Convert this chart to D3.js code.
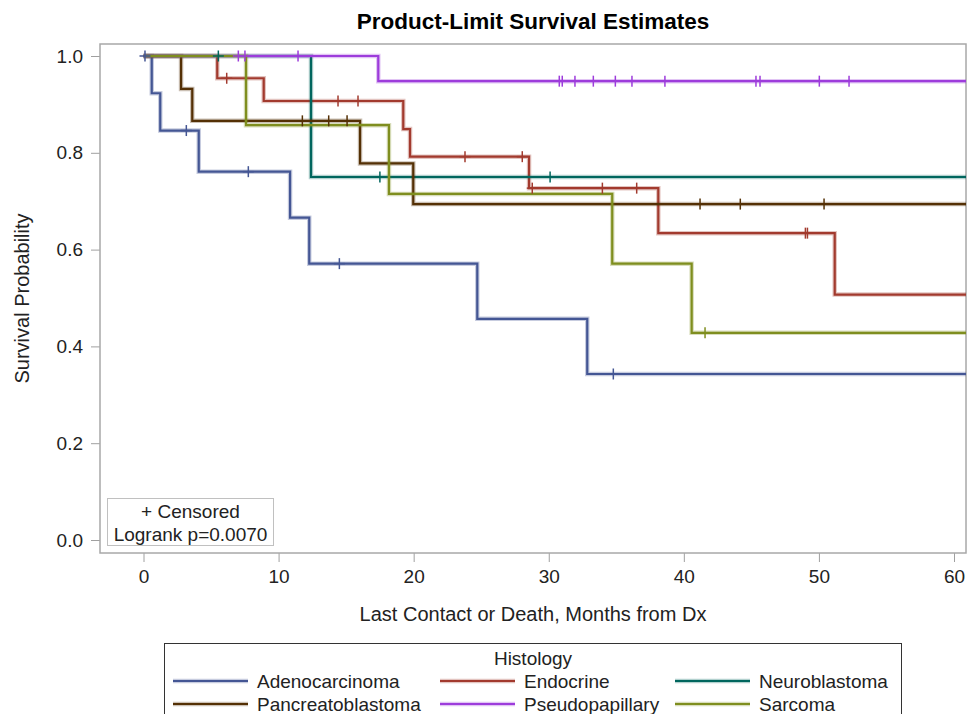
<!DOCTYPE html>
<html>
<head>
<meta charset="utf-8">
<script src="https://cdn.jsdelivr.net/npm/d3@7"></script>
<style>
  body { margin: 0; background: #fff; }
  svg text { font-family: "Liberation Sans", Arial, sans-serif; fill: #222; }
</style>
</head>
<body>
<div id="app"></div>
<script>
// groups in SAS draw order
var groups = ["Adenocarcinoma", "Endocrine", "Neuroblastoma", "Pancreatoblastoma", "Pseudopapillary", "Sarcoma"];
var colors = ["#445694", "#a23a2e", "#01665e", "#543005", "#9d3cdb", "#7f8e1f"];

// event times (months) and survival after each event
var adenoTimes = [0.61, 1.24, 4.09, 10.85, 12.27, 24.71, 32.85];
var adenoSurv  = [0.923, 0.846, 0.761, 0.666, 0.571, 0.457, 0.343];
var adenoCens  = [0.11, 3.17, 7.76, 14.5, 34.78];

var endoTimes = [5.46, 8.9, 19.23, 19.73, 28.54, 38.11, 51.17];
var endoSurv  = [0.954, 0.907, 0.849, 0.792, 0.727, 0.634, 0.507];
var endoCens  = [6.16, 14.4, 15.88, 23.8, 28.04, 28.78, 33.97, 36.51, 49.0, 49.15];

var neuroTimes = [12.4];
var neuroSurv  = [0.75];
var neuroCens  = [5.54, 17.5, 30.1];

var pancTimes = [2.78, 3.61, 16.03, 19.97];
var pancSurv  = [0.932, 0.866, 0.778, 0.694];
var pancCens  = [11.76, 13.71, 15.07, 41.2, 44.18, 50.38];

var pseudoTimes = [17.38];
var pseudoSurv  = [0.948];
var pseudoCens  = [7.02, 7.51, 11.44, 30.78, 31.0, 31.94, 33.3, 34.93, 36.16, 38.6, 45.34, 45.64, 50.03, 52.23];

var sarcTimes = [7.59, 18.17, 34.7, 40.58];
var sarcSurv  = [0.857, 0.715, 0.571, 0.428];
var sarcCens  = [41.57];

var xTicks = [0, 10, 20, 30, 40, 50, 60];
var yTicks = [0, 0.2, 0.4, 0.6, 0.8, 1.0];

var series = [
    {times: adenoTimes, surv: adenoSurv, cens: adenoCens},
    {times: endoTimes, surv: endoSurv, cens: endoCens},
    {times: neuroTimes, surv: neuroSurv, cens: neuroCens},
    {times: pancTimes, surv: pancSurv, cens: pancCens},
    {times: pseudoTimes, surv: pseudoSurv, cens: pseudoCens},
    {times: sarcTimes, surv: sarcSurv, cens: sarcCens}
];

var width = 972,
    height = 714;

var frame = {left: 100, right: 966, top: 44, bottom: 553};

var svg = d3.select("#app").append("svg")
    .attr("width", width)
    .attr("height", height);

var x = d3.scaleLinear().domain([0, 60]).range([143.5, 954]);
var y = d3.scaleLinear().domain([0, 1]).range([540, 56]);
var xEnd = x.invert(frame.right);

// title
svg.append("text")
    .attr("x", (frame.left + frame.right) / 2)
    .attr("y", 29)
    .attr("text-anchor", "middle")
    .style("font-size", "22.5px")
    .style("font-weight", "bold")
    .style("fill", "#000")
    .text("Product-Limit Survival Estimates");

// axes
var xAxis = svg.append("g")
    .attr("transform", "translate(0," + frame.bottom + ")")
    .call(d3.axisBottom(x).tickValues(xTicks).tickSize(9).tickPadding(8).tickFormat(d3.format("d")));
var yAxis = svg.append("g")
    .attr("transform", "translate(" + frame.left + ",0)")
    .call(d3.axisLeft(y).tickValues(yTicks).tickSize(9).tickPadding(8).tickFormat(d3.format(".1f")));

[xAxis, yAxis].forEach(function(a) {
    a.select(".domain").remove();
    a.selectAll(".tick line").attr("stroke", "#a0a0a0");
    a.selectAll(".tick text").style("font-size", "19px").style("font-family", null);
});

svg.append("text")
    .attr("x", (frame.left + frame.right) / 2)
    .attr("y", 621)
    .attr("text-anchor", "middle")
    .style("font-size", "20px")
    .text("Last Contact or Death, Months from Dx");

svg.append("text")
    .attr("transform", "translate(29," + ((frame.top + frame.bottom) / 2) + ") rotate(-90)")
    .attr("text-anchor", "middle")
    .style("font-size", "20px")
    .text("Survival Probability");

// plot frame
svg.append("rect")
    .attr("x", frame.left)
    .attr("y", frame.top)
    .attr("width", frame.right - frame.left)
    .attr("height", frame.bottom - frame.top)
    .attr("fill", "none")
    .attr("stroke", "#a8a8a8")
    .attr("stroke-width", 1.5);

var line = d3.line()
    .x(function(d) { return x(d[0]); })
    .y(function(d) { return y(d[1]); })
    .curve(d3.curveStepAfter);

function stepPoints(s) {
    var pts = [[0, 1]];
    s.times.forEach(function(t, i) { pts.push([t, s.surv[i]]); });
    pts.push([xEnd, s.surv[s.surv.length - 1]]);
    return pts;
}

function survAt(s, t) {
    var v = 1;
    s.times.forEach(function(et, i) { if (et <= t) v = s.surv[i]; });
    return v;
}

var curves = svg.append("g");

series.forEach(function(s, i) {
    var pts = stepPoints(s);
    curves.append("path")
        .datum(pts)
        .attr("d", line)
        .attr("fill", "none")
        .attr("stroke", colors[i])
        .attr("stroke-opacity", 0.3)
        .attr("stroke-width", 4.5);
    curves.append("path")
        .datum(pts)
        .attr("d", line)
        .attr("fill", "none")
        .attr("stroke", colors[i])
        .attr("stroke-width", 2.2);
});

// censor marks (plus symbols) drawn over all lines
series.forEach(function(s, i) {
    var g = svg.append("g").attr("stroke", colors[i]).attr("stroke-width", 1.5);
    s.cens.forEach(function(t) {
        var cx = x(t), cy = y(survAt(s, t));
        g.append("line").attr("x1", cx).attr("x2", cx).attr("y1", cy - 5.5).attr("y2", cy + 5.5);
        g.append("line").attr("x1", cx - 5.5).attr("x2", cx + 5.5).attr("y1", cy).attr("y2", cy);
    });
});

// inset box
var inset = svg.append("g");
inset.append("rect")
    .attr("x", 107.5).attr("y", 498.5)
    .attr("width", 166).attr("height", 47)
    .attr("fill", "#fff")
    .attr("stroke", "#c0c0c0");
inset.append("text")
    .attr("x", 190.5).attr("y", 517.5)
    .attr("text-anchor", "middle")
    .style("font-size", "19px")
    .text("+ Censored");
inset.append("text")
    .attr("x", 190.5).attr("y", 540.5)
    .attr("text-anchor", "middle")
    .style("font-size", "19px")
    .text("Logrank p=0.0070");

// legend
var legend = svg.append("g");
legend.append("rect")
    .attr("x", 164.5).attr("y", 643.5)
    .attr("width", 737).attr("height", 90)
    .attr("fill", "#fff")
    .attr("stroke", "#333");
legend.append("text")
    .attr("x", 533).attr("y", 665)
    .attr("text-anchor", "middle")
    .style("font-size", "19px")
    .text("Histology");

var colX = [173, 440, 675];
var rowY = [681, 704];
groups.forEach(function(name, i) {
    var lx = colX[i % 3], ly = rowY[Math.floor(i / 3)];
    legend.append("line")
        .attr("x1", lx).attr("x2", lx + 75)
        .attr("y1", ly).attr("y2", ly)
        .attr("stroke", colors[i]).attr("stroke-opacity", 0.3).attr("stroke-width", 4.5);
    legend.append("line")
        .attr("x1", lx).attr("x2", lx + 75)
        .attr("y1", ly).attr("y2", ly)
        .attr("stroke", colors[i]).attr("stroke-width", 2.2);
    legend.append("text")
        .attr("x", lx + 84).attr("y", ly + 7)
        .style("font-size", "19px")
        .text(name);
});
</script>
</body>
</html>
